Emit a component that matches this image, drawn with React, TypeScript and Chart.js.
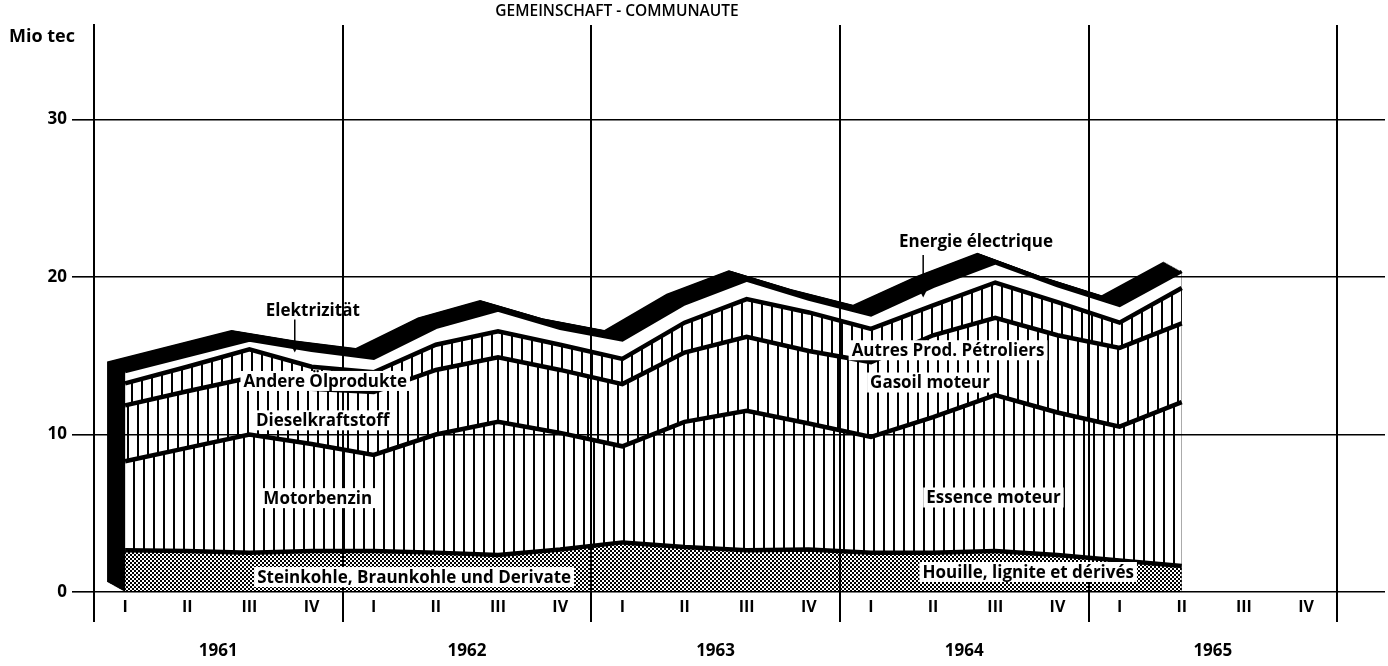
import React, { useEffect, useRef } from 'react';
import { Chart, registerables } from 'chart.js';

Chart.register(...registerables);

// ---- Data -------------------------------------------------------------
const quarterLabels = [
  'I', 'II', 'III', 'IV',
  'I', 'II', 'III', 'IV',
  'I', 'II', 'III', 'IV',
  'I', 'II', 'III', 'IV',
  'I', 'II', 'III', 'IV',
];
const years = ['1961', '1962', '1963', '1964', '1965'];
const yTicks = [0, 10, 20, 30];

// Mio tec, quarterly 1961 I .. 1965 II (stacked, bottom to top)
const steinkohle = [2.65, 2.6, 2.5, 2.6, 2.6, 2.5, 2.35, 2.7, 3.15, 2.85, 2.65, 2.7, 2.5, 2.5, 2.6, 2.35, 2.0, 1.65];
const motorbenzin = [5.65, 6.55, 7.5, 6.8, 6.1, 7.5, 8.45, 7.4, 6.1, 7.95, 8.85, 8.0, 7.35, 8.6, 9.9, 9.05, 8.5, 10.4];
const dieselkraftstoff = [3.55, 3.6, 3.6, 3.5, 4.0, 4.1, 4.1, 4.0, 3.95, 4.4, 4.7, 4.6, 4.75, 5.2, 4.9, 4.9, 5.0, 5.0];
const andereOel = [1.4, 1.55, 1.8, 1.4, 1.25, 1.6, 1.65, 1.6, 1.6, 1.9, 2.4, 2.45, 2.1, 1.9, 2.25, 2.1, 1.6, 2.25];
const elektrizitaet = [0.75, 0.7, 0.6, 1.05, 0.9, 1.1, 1.35, 1.05, 1.2, 1.2, 1.2, 0.85, 0.9, 1.2, 1.25, 1.05, 1.1, 1.05];

const titleText = 'GEMEINSCHAFT - COMMUNAUTE';
const unitText = 'Mio tec';

// annotation texts placed in data coordinates (quarter units, Mio tec)
const annotations = [
  { text: 'Elektrizität', x: 3.52, y: 17.9, bg: false },
  { text: 'Andere Ölprodukte', x: 3.72, y: 13.4, bg: true },
  { text: 'Dieselkraftstoff', x: 3.68, y: 10.9, bg: true },
  { text: 'Motorbenzin', x: 3.6, y: 5.96, bg: true },
  { text: 'Steinkohle, Braunkohle und Derivate', x: 5.15, y: 0.95, bg: true },
  { text: 'Energie électrique', x: 14.19, y: 22.3, bg: false },
  { text: 'Autres Prod. Pétroliers', x: 13.74, y: 15.35, bg: true },
  { text: 'Gasoil moteur', x: 13.45, y: 13.3, bg: true },
  { text: 'Essence moteur', x: 14.47, y: 6.0, bg: true },
  { text: 'Houille, lignite et dérivés', x: 15.03, y: 1.27, bg: true },
];
const arrows = [
  { x: 3.23, y1: 17.3, y2: 15.2 },
  { x: 13.34, y1: 21.4, y2: 18.7 },
];

const FONT = '"Open Sans", "DejaVu Sans", sans-serif';
const X_MAX = 20.77;

function toPoints(arr: number[]) {
  return arr.map((v, i) => ({ x: i + 0.5, y: v }));
}

function makeHatch(ctx: CanvasRenderingContext2D, spacing: number, lw: number, offset: number) {
  const c = document.createElement('canvas');
  c.width = spacing;
  c.height = 8;
  const g = c.getContext('2d')!;
  g.fillStyle = '#fff';
  g.fillRect(0, 0, spacing, 8);
  g.fillStyle = '#000';
  g.fillRect(offset, 0, lw, 8);
  return ctx.createPattern(c, 'repeat')!;
}

function makeDots(ctx: CanvasRenderingContext2D) {
  const c = document.createElement('canvas');
  c.width = 4;
  c.height = 4;
  const g = c.getContext('2d')!;
  g.fillStyle = '#fff';
  g.fillRect(0, 0, 4, 4);
  g.fillStyle = '#000';
  g.fillRect(0, 0, 2, 2);
  g.fillRect(2, 2, 2, 2);
  g.fillRect(1, 1, 1, 1);
  return ctx.createPattern(c, 'repeat')!;
}

const extrudePlugin = {
  id: 'extrude',
  beforeDatasetsDraw(chart: any) {
    const metas = chart.getSortedVisibleDatasetMetas();
    const topMeta = metas.reduce((a: any, b: any) => (b.index > a.index ? b : a));
    const pts = topMeta.data;
    if (!pts.length) return;
    const base = chart.scales.y.getPixelForValue(0);
    const ctx = chart.ctx;
    ctx.save();
    ctx.fillStyle = '#000';
    const dx = 18, dy = 10, steps = 24;
    for (let s = 0; s <= steps; s++) {
      const ox = (-dx * s) / steps;
      const oy = (-dy * s) / steps;
      ctx.beginPath();
      ctx.moveTo(pts[0].x + ox, base + oy);
      for (const p of pts) ctx.lineTo(p.x + ox, p.y + oy);
      ctx.lineTo(pts[pts.length - 1].x + ox, base + oy);
      ctx.closePath();
      ctx.fill();
    }
    ctx.restore();
  },
};

const textPlugin = {
  id: 'texts',
  afterDraw(chart: any) {
    const ctx = chart.ctx;
    const xs = chart.scales.xQ;
    const ys = chart.scales.y;
    ctx.save();
    ctx.fillStyle = '#000';
    // title
    ctx.font = `600 15.5px ${FONT}`;
    ctx.textAlign = 'center';
    ctx.textBaseline = 'middle';
    ctx.fillText(titleText, 617, 12);
    // unit
    ctx.font = `bold 18px ${FONT}`;
    ctx.textAlign = 'right';
    ctx.fillText(unitText, chart.chartArea.left - 19, chart.chartArea.top + 12);
    // arrows
    ctx.strokeStyle = '#000';
    ctx.lineWidth = 1.5;
    for (const a of arrows) {
      const x = xs.getPixelForValue(a.x);
      const y1 = ys.getPixelForValue(a.y1);
      const y2 = ys.getPixelForValue(a.y2);
      ctx.beginPath();
      ctx.moveTo(x, y1);
      ctx.lineTo(x, y2 - 4);
      ctx.stroke();
      ctx.beginPath();
      ctx.moveTo(x - 3.5, y2 - 7);
      ctx.lineTo(x + 3.5, y2 - 7);
      ctx.lineTo(x, y2);
      ctx.closePath();
      ctx.fill();
    }
    // labels
    ctx.font = `bold 17px ${FONT}`;
    ctx.textAlign = 'center';
    ctx.textBaseline = 'middle';
    for (const a of annotations) {
      const x = xs.getPixelForValue(a.x);
      const y = ys.getPixelForValue(a.y);
      const w = ctx.measureText(a.text).width;
      if (a.bg) {
        ctx.fillStyle = '#fff';
        ctx.fillRect(x - w / 2 - 3, y - 10, w + 6, 20);
      }
      ctx.fillStyle = '#000';
      ctx.fillText(a.text, x, y + 1);
    }
    ctx.restore();
  },
};

export default function App() {
  const ref = useRef<HTMLCanvasElement | null>(null);

  useEffect(() => {
    document.body.style.margin = '0';
    const canvas = ref.current!;
    const ctx = canvas.getContext('2d')!;
    const hatchA = makeHatch(ctx, 10, 2, 3);
    const hatchB = makeHatch(ctx, 10, 2, 7);
    const hatchC = makeHatch(ctx, 10, 2, 1);
    const dots = makeDots(ctx);

    const common = {
      borderColor: '#000',
      pointRadius: 0,
      tension: 0,
      xAxisID: 'xQ',
      yAxisID: 'y',
    };

    const chart = new Chart(canvas, {
      type: 'line',
      data: {
        datasets: [
          { ...common, label: 'Steinkohle', data: toPoints(steinkohle), fill: 'origin', backgroundColor: dots, borderWidth: 4.5 },
          { ...common, label: 'Motorbenzin', data: toPoints(motorbenzin), fill: '-1', backgroundColor: hatchA, borderWidth: 4.5 },
          { ...common, label: 'Dieselkraftstoff', data: toPoints(dieselkraftstoff), fill: '-1', backgroundColor: hatchB, borderWidth: 4.5 },
          { ...common, label: 'Andere Ölprodukte', data: toPoints(andereOel), fill: '-1', backgroundColor: hatchC, borderWidth: 4.5 },
          { ...common, label: 'Elektrizität', data: toPoints(elektrizitaet), fill: '-1', backgroundColor: '#fff', borderWidth: 3.5 },
        ] as any,
      },
      options: {
        animation: false,
        responsive: false,
        devicePixelRatio: 1,
        events: [],
        layout: { padding: { top: 25, right: 3, left: 0, bottom: 0 } },
        plugins: {
          legend: { display: false },
          tooltip: { enabled: false },
          title: { display: false },
        },
        scales: {
          y: {
            type: 'linear',
            position: 'left',
            stacked: true,
            min: 0,
            max: 36,
            afterBuildTicks: (s: any) => {
              s.ticks = yTicks.map((v) => ({ value: v }));
            },
            afterFit: (s: any) => {
              s.width = 94;
            },
            grid: { color: '#000', lineWidth: 1.6, tickLength: 22, z: 1 },
            border: { display: true, color: '#000', width: 2, z: 1 },
            ticks: {
              color: '#000',
              padding: 5,
              font: { family: FONT, weight: 'bold', size: 17 },
            },
          },
          xGrid: {
            type: 'linear',
            position: 'bottom',
            weight: 0,
            min: 0,
            max: X_MAX,
            afterBuildTicks: (s: any) => {
              s.ticks = years.map((_, i) => ({ value: i * 4 })).concat([{ value: years.length * 4 }]);
            },
            afterFit: (s: any) => {
              s.height = 0;
            },
            grid: { color: '#000', lineWidth: 2, tickLength: 30, z: 1 },
            border: { display: false },
            ticks: { display: false },
          },
          xQ: {
            type: 'linear',
            position: 'bottom',
            weight: 1,
            min: 0,
            max: X_MAX,
            afterBuildTicks: (s: any) => {
              s.ticks = quarterLabels.map((_, i) => ({ value: i + 0.5 }));
            },
            afterFit: (s: any) => {
              s.height = 30;
            },
            grid: { display: false, drawTicks: false },
            border: { display: false },
            ticks: {
              autoSkip: false,
              maxRotation: 0,
              color: '#000',
              padding: 6,
              font: { family: FONT, weight: 'bold', size: 16 },
              callback: (_v: any, i: number) => quarterLabels[i],
            },
          },
          xYear: {
            type: 'linear',
            position: 'bottom',
            weight: 2,
            min: 0,
            max: X_MAX,
            afterBuildTicks: (s: any) => {
              s.ticks = years.map((_, i) => ({ value: i * 4 + 2 }));
            },
            afterFit: (s: any) => {
              s.height = 44;
            },
            grid: { display: false, drawTicks: false },
            border: { display: false },
            ticks: {
              autoSkip: false,
              maxRotation: 0,
              color: '#000',
              padding: 19,
              font: { family: FONT, weight: 'bold', size: 17 },
              callback: (_v: any, i: number) => years[i],
            },
          },
        } as any,
      },
      plugins: [extrudePlugin, textPlugin],
    });
    return () => chart.destroy();
  }, []);

  return (
    <div style={{ width: 1388, height: 666 }}>
      <canvas ref={ref} width={1388} height={666} style={{ display: 'block' }} />
    </div>
  );
}
